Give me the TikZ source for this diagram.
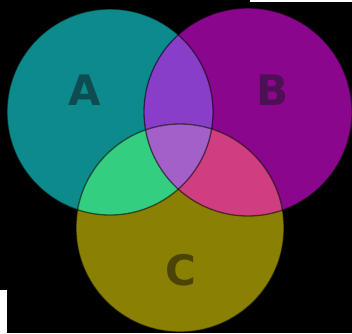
\documentclass[tikz,border=0pt]{standalone}
\usepackage{fontspec}
\setmainfont{DejaVu Sans}
\definecolor{cA}{RGB}{12,138,140}
\definecolor{cB}{RGB}{138,6,140}
\definecolor{cC}{RGB}{138,128,4}
\definecolor{cAB}{RGB}{136,62,200}
\definecolor{cAC}{RGB}{52,206,128}
\definecolor{cBC}{RGB}{206,62,128}
\definecolor{cABC}{RGB}{162,96,200}
\definecolor{tA}{RGB}{14,76,82}
\definecolor{tB}{RGB}{76,16,84}
\definecolor{tC}{RGB}{76,68,6}
\tikzset{
  lbl/.style={font=\fontsize{42}{48}\selectfont\bfseries, inner sep=0pt},
  rim/.style={draw=black, draw opacity=0.55, line width=1.3pt}
}
\begin{document}
\begin{tikzpicture}[x=1pt,y=-1pt]
\useasboundingbox (0,0) rectangle (352,333);
\fill[black] (0,0) rectangle (352,333);
\fill[white] (0,290) -- (7,290) -- (7,333) -- (0,333) -- cycle;
\fill[white] (250,0) rectangle (352,2);
\coordinate (A) at (110,112);
\coordinate (B) at (248,112);
\coordinate (C) at (180,228);
\def\rA{103}\def\rB{104}\def\rC{104}
\fill[cA] (A) circle[radius=\rA];
\fill[cB] (B) circle[radius=\rB];
\fill[cC] (C) circle[radius=\rC];
\begin{scope}
  \clip (A) circle[radius=\rA];
  \fill[cAB] (B) circle[radius=\rB];
  \fill[cAC] (C) circle[radius=\rC];
\end{scope}
\begin{scope}
  \clip (B) circle[radius=\rB];
  \fill[cBC] (C) circle[radius=\rC];
\end{scope}
\begin{scope}
  \clip (A) circle[radius=\rA];
  \clip (B) circle[radius=\rB];
  \fill[cABC] (C) circle[radius=\rC];
\end{scope}
\draw[rim] (A) circle[radius=\rA];
\draw[rim] (B) circle[radius=\rB];
\draw[rim] (C) circle[radius=\rC];
\node[lbl, text=tA] (la) at (85,90) {A};
\node[lbl, text=tB] (lb) at (272,90) {B};
\node[lbl, text=tC] (lc) at (181,270) {C};
\end{tikzpicture}
\end{document}
